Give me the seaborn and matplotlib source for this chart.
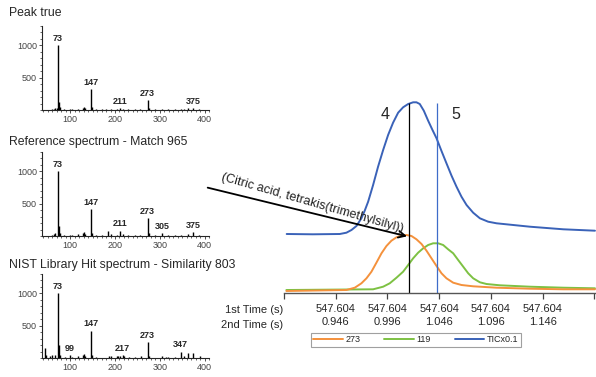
import numpy as np
import pandas as pd
import matplotlib
matplotlib.use("Agg")
import matplotlib.pyplot as plt
import seaborn as sns
from matplotlib.ticker import MultipleLocator
from matplotlib.lines import Line2D

# mass spectra (m/z, intensity)
mz_true = [59, 63, 66, 70, 73, 75, 77, 86, 100, 103, 117, 129, 131, 133, 147, 149, 157, 171,
           180, 191, 204, 211, 217, 229, 245, 257, 273, 275, 289, 305, 319, 333, 347, 355, 363, 375, 387]
int_true = [15, 20, 35, 25, 1000, 130, 40, 10, 15, 10, 18, 30, 45, 25, 320, 45, 12, 12,
            10, 20, 15, 30, 20, 12, 15, 10, 150, 35, 12, 18, 10, 10, 15, 10, 25, 25, 10]
lab_true = [73, 147, 211, 273, 375]

mz_ref = [59, 63, 66, 73, 75, 77, 86, 100, 103, 117, 129, 131, 133, 147, 149, 157, 171, 185,
          191, 204, 211, 217, 229, 245, 257, 273, 275, 289, 305, 319, 333, 347, 363, 375, 387]
int_ref = [20, 30, 40, 1000, 150, 45, 15, 20, 15, 25, 40, 60, 35, 415, 50, 20, 15, 80,
           25, 20, 85, 30, 20, 15, 15, 275, 45, 15, 40, 15, 15, 20, 30, 55, 15]
lab_ref = [73, 147, 211, 273, 305, 375]

mz_nist = [44, 47, 55, 59, 66, 73, 75, 77, 89, 99, 103, 117, 129, 131, 133, 147, 149, 157, 186, 191,
           204, 207, 211, 217, 221, 231, 245, 259, 273, 275, 305, 313, 319, 333, 347, 355, 363, 375, 389]
int_nist = [155, 40, 30, 45, 40, 1000, 205, 50, 15, 50, 15, 25, 40, 60, 35, 425, 40, 15, 30, 25,
            25, 35, 30, 50, 35, 20, 15, 25, 245, 30, 30, 15, 20, 20, 100, 25, 75, 70, 25]
lab_nist = [73, 99, 147, 217, 273, 347]

titles = ["Peak true", "Reference spectrum - Match 965", "NIST Library Hit spectrum - Similarity 803"]

# chromatogram traces (2nd dimension time, intensity)
t_tic = [0.8986, 0.9238, 0.9499, 0.9563, 0.9612, 0.9660, 0.9708, 0.9740, 0.9773, 0.9821, 0.9869,
         0.9918, 0.9966, 1.0014, 1.0063, 1.0111, 1.0160, 1.0208, 1.0240, 1.0272, 1.0311, 1.0353,
         1.0395, 1.0434, 1.0482, 1.0530, 1.0579, 1.0627, 1.0675, 1.0724, 1.0788, 1.0853, 1.0933,
         1.1014, 1.1175, 1.1336, 1.1659, 1.1965]
y_tic = [59, 58.7, 59, 60.3, 63, 67, 74.7, 82.3, 91.3, 108, 126.3,
         143, 158, 170.3, 180.3, 185.7, 189, 190.7, 190.7, 189, 182.3, 172.3,
         163, 154.7, 142, 129.7, 117.3, 106.3, 96.3, 88, 80.3, 74.7, 71.3,
         69.7, 68, 66.3, 63.7, 62.3]
t_273 = [0.8983, 0.9563, 0.9644, 0.9708, 0.9757, 0.9805, 0.9853, 0.9902, 0.9950, 0.9998, 1.0047,
         1.0095, 1.0143, 1.0192, 1.0240, 1.0289, 1.0337, 1.0385, 1.0434, 1.0482, 1.0530, 1.0595,
         1.0675, 1.0788, 1.1014, 1.1336, 1.1659, 1.1965]
y_273 = [2, 3, 5.3, 9.7, 14.7, 21.3, 30.3, 39.7, 47, 52.3, 55.7,
         57.3, 58, 57, 53.7, 49, 42.3, 34.7, 27, 19.7, 14.7, 10.3,
         8, 6.7, 5.3, 4.3, 3.7, 3.7]
t_119 = [0.8983, 0.9821, 0.9918, 0.9982, 1.0047, 1.0111, 1.0160, 1.0208, 1.0256, 1.0305, 1.0353,
         1.0401, 1.0450, 1.0498, 1.0546, 1.0595, 1.0643, 1.0692, 1.0740, 1.0788, 1.0853, 1.0917,
         1.1046, 1.1336, 1.1659, 1.1965]
y_119 = [3, 3.7, 6.3, 9.7, 15.3, 21.3, 28, 34.7, 40.3, 44.7, 48,
         49.7, 49.7, 48, 43.7, 39.7, 33, 26.3, 19.7, 14.7, 10.7, 9,
         7.7, 6.3, 5.3, 4.7]

marker_t = [1.0169, 1.0434]
marker_names = ["4", "5"]
second_time = [0.896, 0.946, 0.996, 1.046, 1.096, 1.146, 1.196]
first_time = ["", "547.604", "547.604", "547.604", "547.604", "547.604", ""]
compound = "(Citric acid, tetrakis(trimethylsilyl))"

sns.set_style("ticks")
plt.rcParams["font.family"] = ["Liberation Sans", "DejaVu Sans"]

W, H = 596, 377
fig = plt.figure(figsize=(W / 100, H / 100), dpi=100)


def px_axes(left, top, right, bottom):
    return fig.add_axes([left / W, 1 - bottom / H, (right - left) / W, (bottom - top) / H])


spectra = [(mz_true, int_true, lab_true), (mz_ref, int_ref, lab_ref), (mz_nist, int_nist, lab_nist)]
bottoms = [110, 236, 358]
title_y = [13, 142, 265]
for (mz, inten, labs), b, ty, title in zip(spectra, bottoms, title_y, titles):
    ax = px_axes(42, b - 84, 209, b)
    ax.vlines(mz, 0, inten, color="black", lw=1.0)
    df = pd.DataFrame({"mz": mz, "i": inten})
    for m in labs:
        v = df.loc[df.mz == m, "i"].iloc[0]
        ax.annotate(str(m), (m, v), xytext=(0, 1.5), textcoords="offset points",
                    ha="center", va="bottom", fontsize=6.5, fontweight="bold")
    ax.set_xlim(37, 410)
    ax.set_ylim(0, 1300)
    ax.set_xticks([100, 200, 300, 400])
    ax.set_yticks([500, 1000])
    ax.xaxis.set_minor_locator(MultipleLocator(10))
    ax.yaxis.set_minor_locator(MultipleLocator(100))
    ax.tick_params(labelsize=6.5, colors="#333333", length=2.5, width=0.6, pad=1)
    ax.tick_params(which="minor", length=1.5, width=0.5)
    for lab in ax.get_xticklabels() + ax.get_yticklabels():
        lab.set_color("#444444")
    sns.despine(ax=ax)
    for s in ["left", "bottom"]:
        ax.spines[s].set_linewidth(0.8)
    fig.text(9 / W, 1 - ty / H, title, fontsize=8.8, va="center", ha="left")

# chromatogram
axc = px_axes(284, 93, 596, 293)
sns.lineplot(x=t_tic, y=y_tic, color="#3a62b8", lw=1.4, ax=axc)
sns.lineplot(x=t_119, y=y_119, color="#7dc143", lw=1.4, ax=axc)
sns.lineplot(x=t_273, y=y_273, color="#f4913c", lw=1.4, ax=axc)
axc.vlines(marker_t, 0, 190, colors=["black", "#3e6cc9"], lw=0.9)
for t, name, dx in zip(marker_t, marker_names, [-17, 14]):
    axc.annotate(name, (t, 178), xytext=(dx, 0), textcoords="offset points",
                 ha="center", va="center", fontsize=11.5)
axc.set_xlim(0.896, 1.1975)
axc.set_ylim(0, 200)
axc.set_xticks(second_time)
axc.set_xticklabels([f"{a}\n{b:.3f}" if a else "" for a, b in zip(first_time, second_time)],
                    linespacing=1.4)
axc.tick_params(axis="x", labelsize=8, length=4, width=0.9, color="#444444", pad=4)
axc.set_yticks([])
sns.despine(ax=axc, left=True)
axc.spines["bottom"].set_color("#555555")
axc.spines["bottom"].set_linewidth(1.0)
axc.set_xlabel("")
fig.text(283 / W, 1 - 310 / H, "1st Time (s)", fontsize=8, ha="right", va="center")
fig.text(283 / W, 1 - 325 / H, "2nd Time (s)", fontsize=8, ha="right", va="center")

# arrow and compound name
axc.annotate("", xy=(1.0175, 56), xytext=(205 / W, 1 - 187 / H), textcoords="figure fraction",
             arrowprops=dict(arrowstyle="->", color="black", lw=1.3, mutation_scale=12),
             annotation_clip=False)
fig.text(312 / W, 1 - 203 / H, compound, fontsize=9, rotation=-16, rotation_mode="anchor",
         ha="center", va="center", color="#222222")

handles = [Line2D([], [], color="#f4913c", lw=1.4), Line2D([], [], color="#7dc143", lw=1.4),
           Line2D([], [], color="#3a62b8", lw=1.4)]
leg = fig.legend(handles, ["273", "119", "TICx0.1"], loc="upper left",
                 bbox_to_anchor=(311 / W, 1 - 333 / H), ncol=3, fontsize=6.5, frameon=True,
                 fancybox=False, borderaxespad=0, borderpad=0.25, handlelength=3.3,
                 handletextpad=0.3, columnspacing=2.6)
leg.get_frame().set_edgecolor("#888888")
leg.get_frame().set_linewidth(0.8)

fig.savefig("out.png", dpi=100)
